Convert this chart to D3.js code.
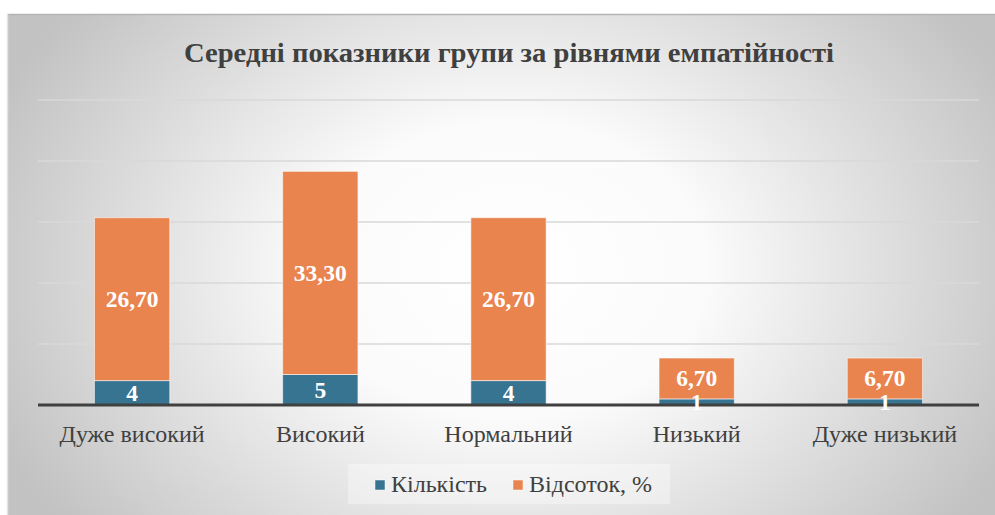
<!DOCTYPE html>
<html>
<head>
<meta charset="utf-8">
<script src="https://cdn.jsdelivr.net/npm/d3@7"></script>
<style>
  html, body { margin: 0; padding: 0; background: #ffffff; }
  svg { display: block; }
</style>
</head>
<body>
<svg id="chart" width="995" height="515"></svg>
<script>
const categories = ["Дуже високий", "Високий", "Нормальний", "Низький", "Дуже низький"];
const countValues = [4, 5, 4, 1, 1];
const percentValues = [26.7, 33.3, 26.7, 6.7, 6.7];
const seriesNames = ["Кількість", "Відсоток, %"];
const seriesColors = ["#377491", "#EA844F"];
const yTicks = [0, 10, 20, 30, 40, 50];
const title = "Середні показники групи за рівнями емпатійності";

const FONT = '"Liberation Serif", serif';
const svg = d3.select("#chart");
const W = 995, H = 515;

// background card with radial gradient
const defs = svg.append("defs");
const grad = defs.append("radialGradient")
  .attr("id", "bg").attr("gradientUnits", "userSpaceOnUse")
  .attr("cx", 510).attr("cy", 270).attr("r", 560)
  .attr("gradientTransform", "translate(510,270) scale(1,0.75) translate(-510,-270)");
grad.append("stop").attr("offset", 0).attr("stop-color", "#ffffff");
grad.append("stop").attr("offset", 0.35).attr("stop-color", "#fbfbfb");
grad.append("stop").attr("offset", 1).attr("stop-color", "#c2c2c2");

svg.append("rect").attr("x", 7).attr("y", 14).attr("width", W - 7).attr("height", H - 14)
  .attr("fill", "url(#bg)");
svg.append("line").attr("x1", 7).attr("x2", W).attr("y1", 14.5).attr("y2", 14.5)
  .attr("stroke", "#b5b5b5").attr("stroke-width", 1.5);
svg.append("line").attr("x1", 7.5).attr("x2", 7.5).attr("y1", 14).attr("y2", H)
  .attr("stroke", "#e4e4e4").attr("stroke-width", 1.5);

// title
svg.append("text").attr("x", 509).attr("y", 62)
  .attr("text-anchor", "middle")
  .style("font-family", FONT)
  .style("font-weight", "bold").style("font-size", "28px")
  .attr("textLength", 650).attr("lengthAdjust", "spacingAndGlyphs")
  .attr("fill", "#404040")
  .text(title);

const plot = { left: 38, right: 979, top: 100, bottom: 405 };

const x = d3.scaleBand().domain(categories)
  .range([plot.left, plot.right]).paddingInner(0.6).paddingOuter(0.3);
const y = d3.scaleLinear().domain([0, 50]).range([plot.bottom, plot.top]);

// gridlines
svg.append("g").selectAll("line").data(yTicks.filter(d => d > 0)).join("line")
  .attr("x1", plot.left).attr("x2", plot.right)
  .attr("y1", d => y(d)).attr("y2", d => y(d))
  .attr("stroke", "#d9d9d9").attr("stroke-width", 1.5);

// stacked data
const rows = categories.map((c, i) => ({ cat: c, count: countValues[i], pct: percentValues[i] }));
const stack = d3.stack().keys(["count", "pct"])(rows);

const gBars = svg.append("g");
stack.forEach((layer, li) => {
  gBars.append("g").selectAll("rect").data(layer).join("rect")
    .attr("x", d => x(d.data.cat))
    .attr("y", d => y(d[1]))
    .attr("width", x.bandwidth())
    .attr("height", d => y(d[0]) - y(d[1]))
    .attr("fill", seriesColors[li])
    .attr("stroke", "rgba(255,255,255,0.55)")
    .attr("stroke-width", 1);
});

// baseline axis
const xAxis = d3.axisBottom(x).tickSize(0).tickPadding(0);
const axG = svg.append("g").attr("transform", `translate(0,${plot.bottom})`).call(xAxis);
axG.attr("font-family", null).attr("font-size", null);
axG.select(".domain").attr("stroke", "#404040").attr("stroke-width", 3)
  .attr("d", `M${plot.left},0H${plot.right}`);
axG.selectAll(".tick text")
  .style("font-family", FONT)
  .style("font-size", "24px").attr("fill", "#404040")
  .attr("dy", null).attr("y", 37);

// data labels
const gLab = svg.append("g");
stack.forEach((layer, li) => {
  gLab.append("g").selectAll("text").data(layer).join("text")
    .attr("x", d => x(d.data.cat) + x.bandwidth() / 2)
    .attr("y", d => (y(d[0]) + y(d[1])) / 2 + 8)
    .attr("text-anchor", "middle")
    .style("font-family", FONT)
    .style("font-weight", "bold").style("font-size", "23.5px")
    .attr("fill", "#ffffff")
    .text(d => li === 0 ? d3.format("d")(d.data.count) : d3.format(".2f")(d.data.pct).replace(".", ","));
});

// legend
const lg = svg.append("g");
lg.append("rect").attr("x", 348).attr("y", 464).attr("width", 322).attr("height", 40)
  .attr("fill", "rgba(255,255,255,0.35)");
const legendItems = [
  { name: seriesNames[0], color: seriesColors[0], sx: 375, tx: 391 },
  { name: seriesNames[1], color: seriesColors[1], sx: 513, tx: 529 }
];
legendItems.forEach(it => {
  lg.append("rect").attr("x", it.sx).attr("y", 480).attr("width", 10).attr("height", 10)
    .attr("fill", it.color).attr("stroke", "rgba(255,255,255,0.6)").attr("stroke-width", 0.8);
  lg.append("text").attr("x", it.tx).attr("y", 492)
    .style("font-family", FONT)
    .style("font-size", "24px").attr("fill", "#404040")
    .text(it.name);
});
</script>
</body>
</html>
